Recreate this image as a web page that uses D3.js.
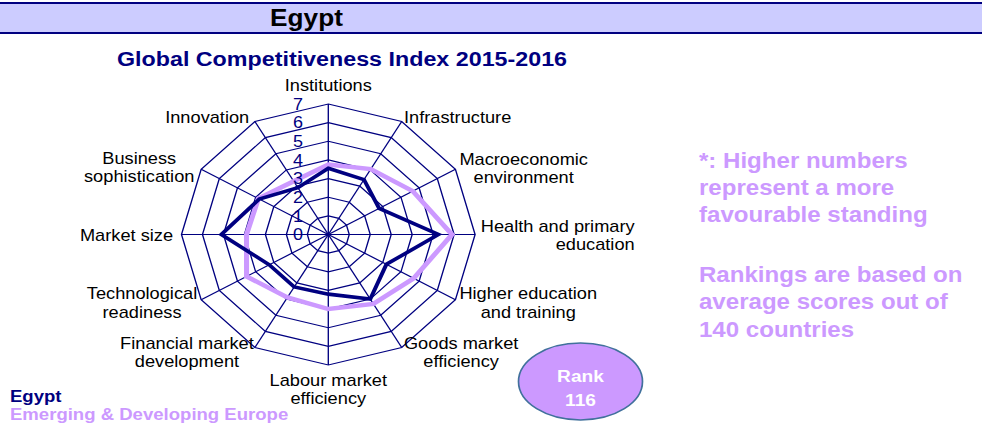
<!DOCTYPE html>
<html>
<head>
<meta charset="utf-8">
<script src="https://cdn.jsdelivr.net/npm/d3@7"></script>
<style>
  html, body { margin: 0; padding: 0; background: #ffffff; }
  svg { display: block; font-family: "Liberation Sans", Arial, sans-serif; }
</style>
</head>
<body>
<script>
// ---------------- data ----------------
const categories = [
  "Institutions", "Infrastructure", "Macroeconomic environment",
  "Health and primary education", "Higher education and training",
  "Goods market efficiency", "Labour market efficiency",
  "Financial market development", "Technological readiness",
  "Market size", "Business sophistication", "Innovation"
];
const categoryLines = [
  ["Institutions"], ["Infrastructure"], ["Macroeconomic", "environment"],
  ["Health and primary", "education"], ["Higher education", "and training"],
  ["Goods market", "efficiency"], ["Labour market", "efficiency"],
  ["Financial market", "development"], ["Technological", "readiness"],
  ["Market size"], ["Business", "sophistication"], ["Innovation"]
];
const egyptValues  = [3.55, 3.4, 2.8, 5.25, 3.2, 4.0, 3.2, 3.25, 3.25, 5.1, 3.8, 2.9];
const regionValues = [3.75, 4.05, 4.65, 5.9, 4.7, 4.3, 4.0, 3.9, 4.5, 3.9, 3.85, 3.3];
const tickValues = [0, 1, 2, 3, 4, 5, 6, 7];
const seriesNames = ["Egypt", "Emerging & Developing Europe"];
const headerTitle = "Egypt";
const chartTitle = "Global Competitiveness Index 2015-2016";
const noteLines = ["*: Higher numbers", "represent a more", "favourable standing", "",
                   "Rankings are based on", "average scores out of", "140 countries"];
const rankLines = ["Rank", "116"];

// ---------------- layout ----------------
const S = 1.125;                 // horizontal stretch of the whole picture
const WIDTH = 982, HEIGHT = 430;
const W = WIDTH / S;
const NAVY = "#000080", LAV = "#cc99ff";
const cx = 328.3 / S, cy = 234.5, R = 130.5;
// label placement tweaks (pre-stretch px): horizontal gap from vertex, vertical shift
const labelGap   = [0, 2, 3.5, 5, 3.5, 2, 0, -1, -3.5, -7.5, -6, -5];
const labelShift = [0, -4, -1, 1, 3, 5, 0, 5, 3, 1, -2, -4];
const labelAlign = ["middle", "middle", "middle", "end", "middle", "middle", "middle",
                    "middle", "middle", "middle", "middle", "middle"];

const svg = d3.select("body").append("svg")
  .attr("width", WIDTH).attr("height", HEIGHT);
const g = svg.append("g").attr("transform", `scale(${S},1)`);

// header bar
g.append("rect").attr("x", 0).attr("y", 3).attr("width", W).attr("height", 30)
  .attr("fill", "#ccccff");
g.append("line").attr("x1", 0).attr("x2", W).attr("y1", 3).attr("y2", 3)
  .attr("stroke", NAVY).attr("stroke-width", 2);
g.append("line").attr("x1", 0).attr("x2", W).attr("y1", 33).attr("y2", 33)
  .attr("stroke", NAVY).attr("stroke-width", 2);
g.append("text").attr("x", 306.5 / S).attr("y", 26).attr("text-anchor", "middle")
  .attr("font-size", 23.3).attr("font-weight", "bold").attr("fill", "#000")
  .text(headerTitle);

// chart title
g.append("text").attr("x", 342 / S).attr("y", 66).attr("text-anchor", "middle")
  .attr("font-size", 20.7).attr("font-weight", "bold").attr("fill", NAVY)
  .text(chartTitle);

// scales
const rScale = d3.scaleLinear().domain([0, 7]).range([0, R]);
const aScale = d3.scaleLinear().domain([0, categories.length]).range([0, 2 * Math.PI]);

const radar = g.append("g").attr("transform", `translate(${cx},${cy})`);

// rings
const ringLine = d3.lineRadial()
  .angle((d, i) => aScale(i)).radius(d => rScale(d)).curve(d3.curveLinearClosed);
radar.selectAll("path.ring").data(tickValues.filter(v => v > 0)).join("path")
  .attr("class", "ring")
  .attr("d", v => ringLine(categories.map(() => v)))
  .attr("fill", "none").attr("stroke", NAVY).attr("stroke-width", 1.2);

// spokes
radar.selectAll("line.spoke").data(categories).join("line")
  .attr("class", "spoke")
  .attr("x1", 0).attr("y1", 0)
  .attr("x2", (d, i) => rScale(7) * Math.sin(aScale(i)))
  .attr("y2", (d, i) => -rScale(7) * Math.cos(aScale(i)))
  .attr("stroke", NAVY).attr("stroke-width", 1.2);

// series
const valueLine = d3.lineRadial()
  .angle((d, i) => aScale(i)).radius(d => rScale(d)).curve(d3.curveLinearClosed);
radar.append("path").attr("d", valueLine(regionValues))
  .attr("fill", "none").attr("stroke", LAV).attr("stroke-width", 4.5)
  .attr("stroke-linejoin", "miter");
radar.append("path").attr("d", valueLine(egyptValues))
  .attr("fill", "none").attr("stroke", NAVY).attr("stroke-width", 3.6)
  .attr("stroke-linejoin", "miter");

// tick labels
radar.selectAll("text.tick").data(tickValues).join("text")
  .attr("class", "tick")
  .attr("x", -26.9)
  .attr("y", v => -rScale(v)).attr("dy", "0.36em")
  .attr("text-anchor", "middle").attr("font-size", 16).attr("fill", NAVY)
  .text(v => v);

// category labels
const LH = 18.5, FS = 16.2;
categoryLines.forEach((lines, i) => {
  const a = aScale(i);
  const vx = cx + rScale(7) * Math.sin(a);
  const vy = cy - rScale(7) * Math.cos(a);
  const t = g.append("text").attr("font-size", FS).attr("fill", "#000");
  const spans = lines.map(l => t.append("tspan").text(l));
  const widths = spans.map(s => s.node().getComputedTextLength());
  const bw = d3.max(widths);
  let centerX, baselines;
  const n = lines.length;
  if (i === 0) {
    centerX = vx;
    baselines = lines.map((l, k) => vy - 12.5 - (n - 1 - k) * LH);
  } else if (i === 6) {
    centerX = vx;
    baselines = lines.map((l, k) => vy + 21 + k * LH);
  } else {
    centerX = i < 6 ? vx + labelGap[i] + bw / 2 : vx + labelGap[i] - bw / 2;
    const mid = vy + labelShift[i];
    baselines = lines.map((l, k) => mid - (n - 1) * LH / 2 + k * LH + 5.6);
  }
  spans.forEach((s, k) => {
    if (labelAlign[i] === "end") {
      s.attr("x", centerX + bw / 2).attr("text-anchor", "end");
    } else {
      s.attr("x", centerX).attr("text-anchor", "middle");
    }
    s.attr("y", baselines[k]);
  });
});

// right-hand note
g.append("g").selectAll("text").data(noteLines).join("text")
  .attr("x", 699 / S)
  .attr("y", (d, i) => i < 4 ? 168 + i * 27 : 282 + (i - 4) * 27.5)
  .attr("font-size", 21.4).attr("font-weight", "bold").attr("fill", LAV)
  .text(d => d);

// legend
g.append("text").attr("x", 10 / S).attr("y", 402).attr("font-size", 16.5)
  .attr("font-weight", "bold").attr("fill", NAVY).text(seriesNames[0]);
g.append("text").attr("x", 10 / S).attr("y", 420).attr("font-size", 16.5)
  .attr("font-weight", "bold").attr("fill", LAV).text(seriesNames[1]);

// rank ellipse
g.append("ellipse").attr("cx", 580.5 / S).attr("cy", 381.5)
  .attr("rx", 62 / S).attr("ry", 38.5)
  .attr("fill", LAV).attr("stroke", "#41719c").attr("stroke-width", 1.5);
g.append("g").selectAll("text").data(rankLines).join("text")
  .attr("x", 580.5 / S).attr("y", (d, i) => 382 + i * 24)
  .attr("text-anchor", "middle").attr("font-size", 17).attr("font-weight", "bold")
  .attr("fill", "#ffffff").text(d => d);
</script>
</body>
</html>
